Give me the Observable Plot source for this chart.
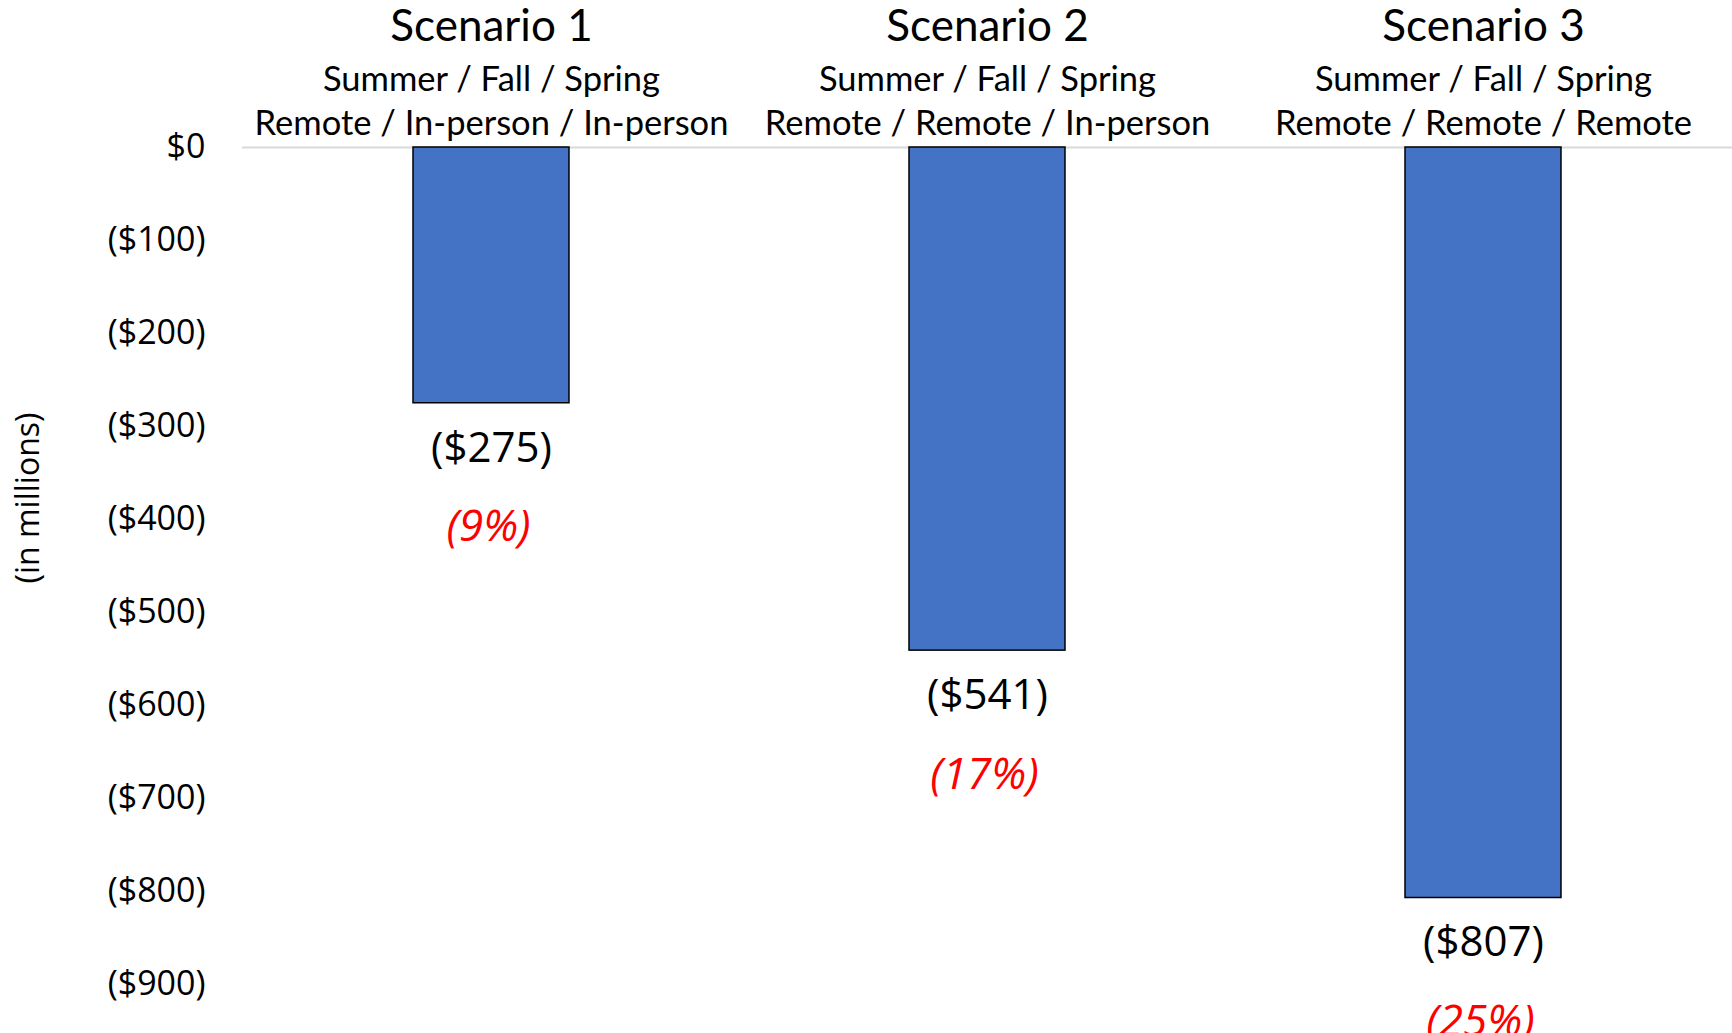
<!DOCTYPE html>
<html>
<head>
<meta charset="utf-8">
<script src="https://cdn.jsdelivr.net/npm/d3@7"></script>
<script src="https://cdn.jsdelivr.net/npm/@observablehq/plot@0.6"></script>
<style>
  html, body { margin: 0; padding: 0; background: #fff; }
  #chart { width: 1732px; height: 1033px; overflow: hidden; }
</style>
</head>
<body>
<div id="chart"></div>
<script>
// ---- data ----
const scenarios = ["Scenario 1", "Scenario 2", "Scenario 3"];
const seasons = ["Summer / Fall / Spring", "Summer / Fall / Spring", "Summer / Fall / Spring"];
const modes = ["Remote / In-person / In-person", "Remote / Remote / In-person", "Remote / Remote / Remote"];
const losses = [-275, -541, -807];          // $ millions
const shares = [9, 17, 25];                 // percent
const yTicks = [0, -100, -200, -300, -400, -500, -600, -700, -800, -900];
const yLabel = "(in millions)";

const rows = scenarios.map((s, i) => ({
  scenario: s, season: seasons[i], mode: modes[i], loss: losses[i], share: shares[i]
}));

const money = v => v === 0 ? "$0" : `($${-v})`;
const headFont = "Lato, 'Open Sans', sans-serif";
const bodyFont = "'Open Sans', 'Noto Sans', sans-serif";

const chart = Plot.plot({
  width: 1732,
  height: 1033,
  marginLeft: 242,
  marginRight: 0,
  marginTop: 147,
  marginBottom: 49,
  style: { fontFamily: bodyFont, color: "#000", background: "#fff", overflow: "visible" },
  x: { domain: scenarios, paddingInner: 0.686, paddingOuter: 0.343, axis: null },
  y: { domain: [-900, 0], axis: null },
  marks: [
    Plot.axisY({ ticks: yTicks, tickFormat: money, tickSize: 0, tickPadding: 37, fontSize: 34, label: null, fontFamily: bodyFont }),
    Plot.ruleY([0], { stroke: "#d9d9d9", strokeWidth: 2 }),
    Plot.barY(rows, { x: "scenario", y: "loss", fill: "#4472C4", stroke: "#000", strokeWidth: 1.5 }),
    // value labels below bars
    Plot.text(rows, { x: "scenario", y: "loss", text: d => money(d.loss), dy: 45, fontSize: 42, fontFamily: bodyFont, fill: "#000" }),
    Plot.text(rows, { x: "scenario", y: "loss", text: d => `(${d.share}%)`, dy: 124, dx: -3, fontSize: 44, fontStyle: "italic", fontFamily: bodyFont, fill: "#ff0000" }),
    // headers above the zero line
    Plot.text(rows, { x: "scenario", y: () => 0, text: "scenario", dy: -121, fontSize: 44, fontFamily: headFont, fill: "#000" }),
    Plot.text(rows, { x: "scenario", y: () => 0, text: "season", dy: -68, dx: 0, fontSize: 34.5, fontFamily: headFont, fill: "#000" }),
    Plot.text(rows, { x: "scenario", y: () => 0, text: "mode", dy: -24, dx: 0, fontSize: 34.5, fontFamily: headFont, fill: "#000" }),
    // y axis title
    Plot.text([yLabel], { frameAnchor: "left", textAnchor: "middle", text: d => d, rotate: -90, dx: -214, dy: -68, fontSize: 32, fontFamily: bodyFont, fill: "#000" })
  ]
});
document.getElementById("chart").appendChild(chart);
</script>
</body>
</html>
